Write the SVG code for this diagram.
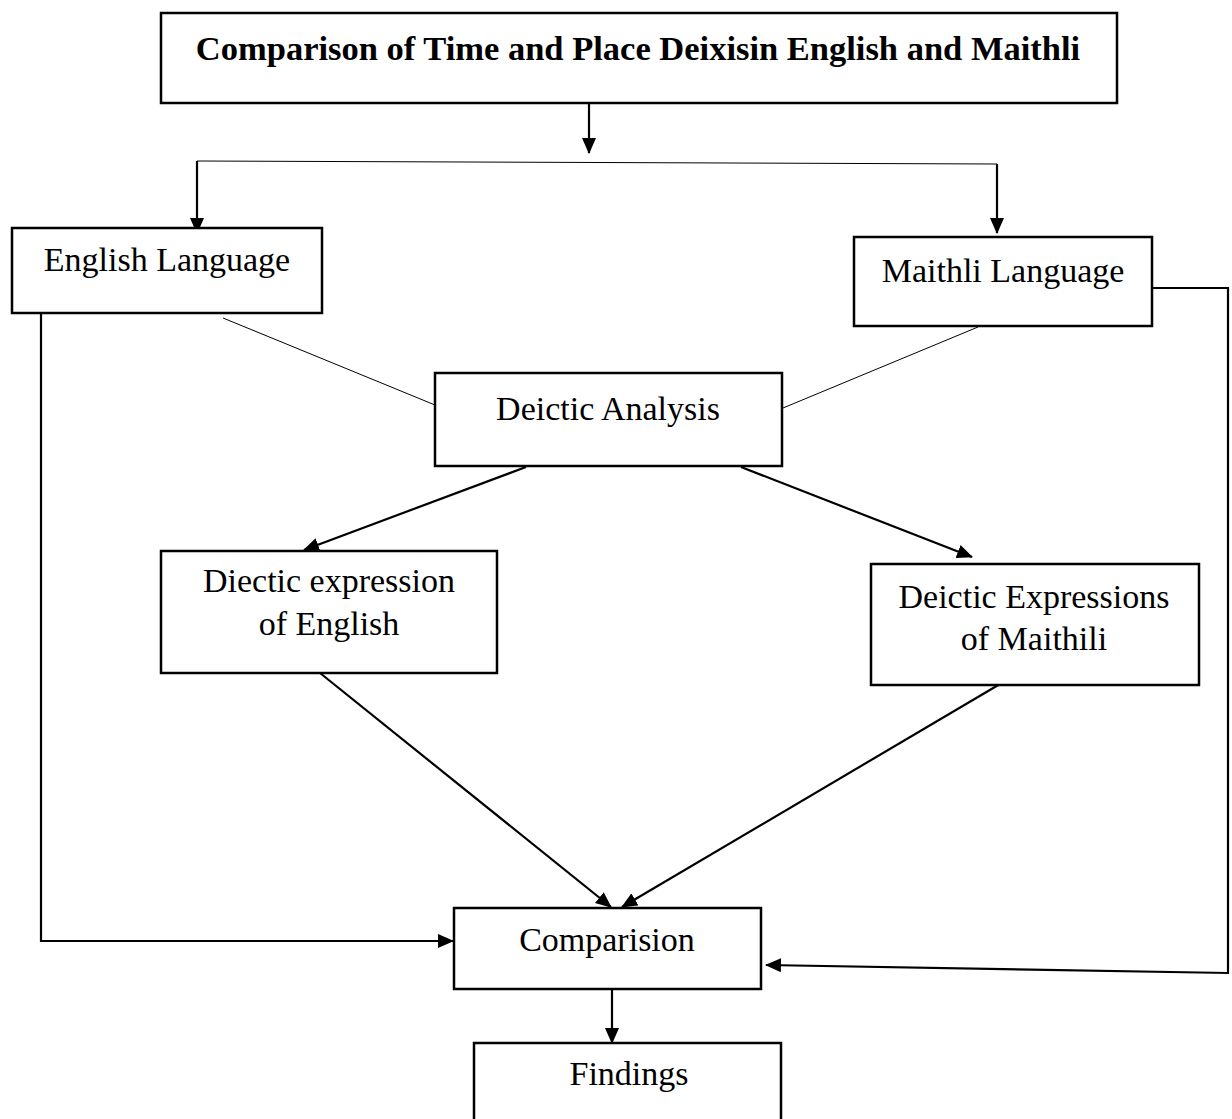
<svg xmlns="http://www.w3.org/2000/svg" width="1232" height="1119" viewBox="0 0 1232 1119">
  <style>
    .box { fill: #ffffff; stroke: #000000; stroke-width: 2.5; }
    .lbl { font-family: "Liberation Serif", "Times New Roman", serif; font-size: 34px; fill: #000000; text-anchor: middle; }
    .title { font-family: "Liberation Serif", "Times New Roman", serif; font-size: 34.5px; font-weight: bold; fill: #000000; text-anchor: middle; }
    .wire { fill: none; stroke: #000000; stroke-width: 2; }
    .thin { fill: none; stroke: #000000; stroke-width: 1; }
    .arrow { fill: none; stroke: #000000; stroke-width: 2.2; marker-end: url(#head); }
  </style>
  <defs>
    <marker id="head" markerUnits="userSpaceOnUse" markerWidth="16" markerHeight="14" refX="15" refY="7" orient="auto">
      <path d="M0,0 L16,7 L0,14 z" fill="#000000"/>
    </marker>
  </defs>

  <rect width="1232" height="1119" fill="#ffffff"/>

  <g id="connectors">
    <!-- title down to the split bar -->
    <line class="arrow" x1="589" y1="103" x2="589" y2="153"/>
    <line class="thin" x1="197" y1="161" x2="997" y2="164"/>
    <line class="arrow" x1="197" y1="161" x2="197" y2="233"/>
    <line class="arrow" x1="997" y1="164" x2="997" y2="233"/>
    <!-- language boxes to deictic analysis -->
    <line class="thin" x1="223" y1="318" x2="435" y2="405"/>
    <line class="thin" x1="978" y1="327" x2="783" y2="408"/>
    <!-- analysis to expressions -->
    <line class="arrow" x1="526" y1="467" x2="304" y2="550"/>
    <line class="arrow" x1="741" y1="467" x2="972" y2="557"/>
    <!-- expressions to comparison -->
    <line class="arrow" x1="320" y1="673" x2="611" y2="907"/>
    <line class="arrow" x1="1000" y1="684" x2="622" y2="907"/>
    <!-- side routes -->
    <polyline class="arrow" points="41,313 41,941 453,941"/>
    <polyline class="arrow" points="1152,288 1228,288 1228,973 766,965"/>
    <!-- comparison to findings -->
    <line class="arrow" x1="612" y1="989" x2="612" y2="1043"/>
  </g>

  <g id="title">
    <rect class="box" x="161" y="13" width="956" height="90"/>
    <text class="title" x="638" y="60">Comparison of Time and Place Deixisin English and Maithli</text>
  </g>

  <g id="english-language">
    <rect class="box" x="12" y="228" width="310" height="85"/>
    <text class="lbl" x="167" y="271">English Language</text>
  </g>

  <g id="maithli-language">
    <rect class="box" x="854" y="237" width="298" height="89"/>
    <text class="lbl" x="1003" y="282">Maithli Language</text>
  </g>

  <g id="deictic-analysis">
    <rect class="box" x="435" y="373" width="347" height="93"/>
    <text class="lbl" x="608" y="420">Deictic Analysis</text>
  </g>

  <g id="english-expressions">
    <rect class="box" x="161" y="551" width="336" height="122"/>
    <text class="lbl" x="329" y="592">Diectic expression</text>
    <text class="lbl" x="329" y="635">of English</text>
  </g>

  <g id="maithili-expressions">
    <rect class="box" x="871" y="564" width="328" height="121"/>
    <text class="lbl" x="1034" y="608">Deictic Expressions</text>
    <text class="lbl" x="1034" y="650">of Maithili</text>
  </g>

  <g id="comparision">
    <rect class="box" x="454" y="908" width="307" height="81"/>
    <text class="lbl" x="607" y="951">Comparision</text>
  </g>

  <g id="findings">
    <rect class="box" x="474" y="1043" width="307" height="90"/>
    <text class="lbl" x="629" y="1085">Findings</text>
  </g>
</svg>
